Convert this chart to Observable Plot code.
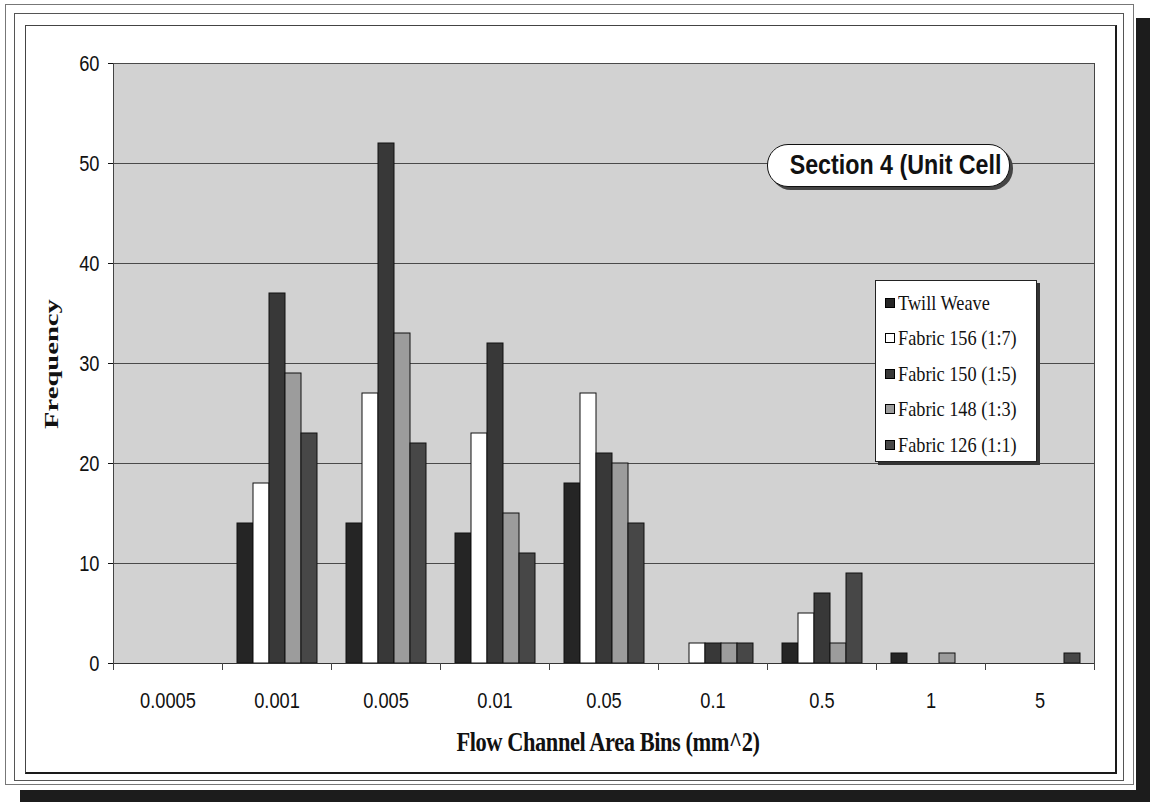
<!DOCTYPE html>
<html>
<head>
<meta charset="utf-8">
<script src="https://cdn.jsdelivr.net/npm/d3@7"></script>
<script src="https://cdn.jsdelivr.net/npm/@observablehq/plot@0.6"></script>
<style>
  html, body { margin: 0; padding: 0; background: #fff; }
  body { width: 1154px; height: 802px; position: relative; overflow: hidden; }
  .box { position: absolute; box-sizing: border-box; }
  #b1 { left: 5px; top: 4px; width: 1129px; height: 781px; border: 1px solid #777; }
  #b2 { left: 14px; top: 13px; width: 1110px; height: 768px; border: 1px solid #555; }
  #b3 { left: 25px; top: 25px; width: 1092px; height: 749px; border-left: 1px solid #444; border-top: 1px solid #444; border-right: 2px solid #1a1a1a; border-bottom: 2px solid #1a1a1a; }
  #shR { left: 1136px; top: 18px; width: 14px; height: 784px; background: #1c1c1c; }
  #shB { left: 20px; top: 790px; width: 1130px; height: 12px; background: #1c1c1c; }
  #chart { position: absolute; left: 0; top: 0; }
  #xtitle { position: absolute; left: 358px; top: 729px; width: 500px; text-align: center;
    font: bold 27px/27px "Liberation Serif", "Times New Roman", serif; color: #111;
    transform: scaleX(0.83); transform-origin: 50% 50%; letter-spacing: -0.5px; white-space: nowrap; }
  #ytitle { position: absolute; left: -48px; top: 349px; width: 200px; height: 30px; text-align: center;
    font: bold 26px/30px "Liberation Serif", "Times New Roman", serif; color: #111;
    transform: rotate(-90deg) scale(1.1, 0.75); transform-origin: 50% 50%; white-space: nowrap; }
  #title { position: absolute; left: 767px; top: 144px; width: 243px; height: 43px; box-sizing: border-box;
    border: 1.5px solid #111; border-radius: 21px; background: #fff; box-shadow: 3px 3px 0 #444;
    text-align: center; }
  #title span { display: inline-block; font: bold 28px/40px "Liberation Sans", Arial, sans-serif; color: #111;
    transform: scaleX(0.83); transform-origin: 50% 50%; white-space: nowrap; }
  #legend { position: absolute; left: 875px; top: 280px; width: 162px; height: 182px; box-sizing: border-box;
    border: 1px solid #222; background: #fff; box-shadow: 3px 3px 0 #333; padding-top: 4px; }
  .li { height: 35.5px; display: flex; align-items: center; padding-left: 9px; }
  .sw { width: 10px; height: 10px; box-sizing: border-box; border: 1px solid #000; flex: none; }
  .lt { font: 22px/24px "Liberation Serif", "Times New Roman", serif; color: #111; margin-left: 3px;
    transform: scaleX(0.83); transform-origin: 0 50%; white-space: nowrap; }
</style>
</head>
<body>
<div class="box" id="b1"></div>
<div class="box" id="b2"></div>
<div class="box" id="b3"></div>
<div class="box" id="shR"></div>
<div class="box" id="shB"></div>
<div id="chart"></div>
<div id="xtitle">Flow Channel Area Bins (mm^2)</div>
<div id="ytitle">Frequency</div>
<div id="title"><span>Section 4 (Unit Cell</span></div>
<div id="legend"></div>
<script>
// ---- data ----
const bins = ["0.0005", "0.001", "0.005", "0.01", "0.05", "0.1", "0.5", "1", "5"];
const seriesNames = ["Twill Weave", "Fabric 156 (1:7)", "Fabric 150 (1:5)", "Fabric 148 (1:3)", "Fabric 126 (1:1)"];
const twillWeave = [0, 14, 14, 13, 18, 0, 2, 1, 0];
const fabric156  = [0, 18, 27, 23, 27, 2, 5, 0, 0];
const fabric150  = [0, 37, 52, 32, 21, 2, 7, 0, 0];
const fabric148  = [0, 29, 33, 15, 20, 2, 2, 1, 0];
const fabric126  = [0, 23, 22, 11, 14, 2, 9, 0, 1];
const seriesColors = ["#252525", "#ffffff", "#383838", "#9c9c9c", "#474747"];
const yTicks = [0, 10, 20, 30, 40, 50, 60];

// ---- table built from arrays ----
const seriesValues = [twillWeave, fabric156, fabric150, fabric148, fabric126];
const rows = [];
bins.forEach((b, i) => seriesValues.forEach((vals, s) => rows.push({bin: b, series: seriesNames[s], value: vals[i]})));

const W = 1154, H = 802, mL = 110, mR = 57, mT = 63, mB = 139;
const plotH = H - mT - mB;

const chart = Plot.plot({
  width: W, height: H,
  marginLeft: mL, marginRight: mR, marginTop: mT, marginBottom: mB,
  style: {fontFamily: "'Liberation Sans', Arial, sans-serif", fontSize: "22px", color: "#111", background: "transparent", overflow: "visible"},
  fx: {domain: bins, padding: 0, label: null, axis: "bottom", tickSize: 0, tickPadding: 29},
  x: {domain: seriesNames, axis: null, paddingInner: 0, paddingOuter: 0.74},
  y: {domain: [0, 60], ticks: yTicks, label: null, tickSize: 5, tickPadding: 9},
  color: {domain: seriesNames, range: seriesColors},
  marks: [
    Plot.frame({fill: "url(#stipple)", shapeRendering: "crispEdges", insetRight: -0.5}),
    Plot.gridY(yTicks, {stroke: "#4a4a4a", strokeOpacity: 1, strokeWidth: 1}),
    Plot.barY(rows.filter(d => d.value > 0), {fx: "bin", x: "series", y: "value", fill: "series", stroke: "#111", strokeWidth: 1}),
    Plot.ruleY([0], {stroke: "#333", strokeWidth: 1.2}),
    Plot.frame({anchor: "left", insetTop: plotH, insetBottom: -6, stroke: "#444"}),
    Plot.frame({anchor: "left", fx: [bins[0]], stroke: "#444"}),
    Plot.frame({anchor: "right", fx: [bins[bins.length - 1]], insetBottom: -6, stroke: "#444"})
  ]
});

const svg = d3.select(chart);
const defs = svg.insert("defs", ":first-child");
const pat = defs.append("pattern").attr("id", "stipple").attr("width", 2).attr("height", 2).attr("patternUnits", "userSpaceOnUse");
pat.append("rect").attr("width", 2).attr("height", 2).attr("fill", "#e2e2e2");
pat.append("rect").attr("x", 0).attr("y", 0).attr("width", 1).attr("height", 1).attr("fill", "#c2c2c2");
pat.append("rect").attr("x", 1).attr("y", 1).attr("width", 1).attr("height", 1).attr("fill", "#c2c2c2");

// horizontally condense tick labels like the reference
svg.selectAll("g[aria-label*='tick label'] text").each(function () {
  const t = this.getAttribute("transform") || "";
  const x = +(this.getAttribute("x") || 0);
  this.setAttribute("transform", `${t} translate(${x},0) scale(0.83,1) translate(${-x},0)`);
});

document.getElementById("chart").appendChild(chart);

// legend from the series arrays
const legend = d3.select("#legend");
seriesNames.forEach((name, i) => {
  const row = legend.append("div").attr("class", "li");
  row.append("div").attr("class", "sw").style("background", seriesColors[i]);
  row.append("div").attr("class", "lt").text(name);
});
</script>
</body>
</html>
